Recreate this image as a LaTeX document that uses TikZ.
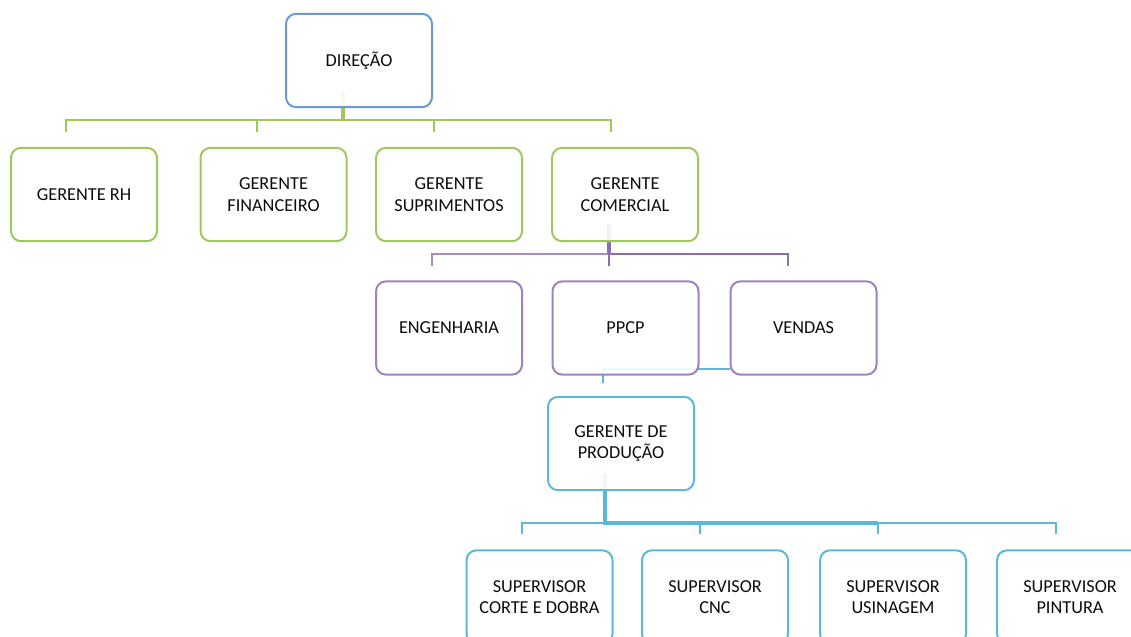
\documentclass[tikz,border=0pt]{standalone}
\usepackage{fontspec}
\setmainfont{Carlito}
\usetikzlibrary{calc}
\definecolor{dirblue}{HTML}{6A9AD6}
\definecolor{mgreen}{HTML}{9DC85A}
\definecolor{dpurple}{HTML}{8C6CB4}
\definecolor{lpurple}{HTML}{A58CC8}
\definecolor{pcyan}{HTML}{58BAD8}
\pgfdeclarelayer{bg}
\pgfsetlayers{bg,main}
\begin{document}
\begin{tikzpicture}[x=0.75pt,y=-0.75pt,
  box/.style={rectangle, rounded corners=7.5pt, line width=1.5pt, fill=white,
    fill opacity=0.9, text opacity=1, text=black!95, minimum width=109.5pt,
    minimum height=70pt, inner sep=0pt, align=center,
    font=\fontsize{13.7}{16.1}\selectfont},
  topbox/.style={box, draw=dirblue},
  gbox/.style={box, draw=mgreen},
  pbox/.style={box, draw=dpurple!85},
  cbox/.style={box, draw=pcyan},
  conn/.style={line width=1.5pt},
  trunk/.style={line width=3pt}]
\useasboundingbox (0,0) rectangle (1131,636);
\clip (0,0) rectangle (1131,636);

% boxes
\node[topbox] (dir) at (359,60.5) {DIREÇÃO};

\node[gbox] (rh)  at (84,194.5)    {GERENTE RH};
\node[gbox] (fin) at (273.5,194.5) {GERENTE\\FINANCEIRO};
\node[gbox] (sup) at (449,194.5)   {GERENTE\\SUPRIMENTOS};
\node[gbox] (com) at (625,194.5)   {GERENTE\\COMERCIAL};

\node[pbox] (eng)  at (449,328)   {ENGENHARIA};
\node[pbox] (ppcp) at (625.5,328) {PPCP};
\node[pbox] (ven)  at (803.5,328) {VENDAS};

\node[cbox] (prod) at (621,443.5) {GERENTE DE\\PRODUÇÃO};

\node[cbox] (s1) at (539.5,597) {SUPERVISOR\\CORTE E DOBRA};
\node[cbox] (s2) at (715,597)   {SUPERVISOR\\CNC};
\node[cbox] (s3) at (893,597)   {SUPERVISOR\\USINAGEM};
\node[cbox] (s4) at (1070,597)  {SUPERVISOR\\PINTURA};

% bus levels and drop ends
\coordinate (gbus) at ($(dir.south)+(-16,12)$);
\coordinate (pbus) at ($(com.south)+(-16,12)$);
\coordinate (cbus) at ($(prod.south)+(-16,32)$);

\coordinate (g1) at ($(rh.north)+(-18,-15)$);
\coordinate (g2) at ($(fin.north)+(-16.5,-15)$);
\coordinate (g3) at ($(sup.north)+(-15,-15)$);
\coordinate (g4) at ($(com.north)+(-14,-15)$);

\coordinate (p1) at ($(eng.north)+(-17,-14)$);
\coordinate (p2) at ($(ppcp.north)+(-16.5,-14)$);
\coordinate (p3) at ($(ven.north)+(-15.5,-14)$);

\coordinate (c1) at ($(s1.north)+(-17.5,-15)$);
\coordinate (c2) at ($(s2.north)+(-15,-15)$);
\coordinate (c3) at ($(s3.north)+(-15,-15)$);
\coordinate (c4) at ($(s4.north)+(-14,-15)$);

\begin{pgfonlayer}{bg}
  % direction -> managers
  \draw[trunk, mgreen] ($(dir.south)+(-16,-17)$) -- (gbus);
  \draw[conn, mgreen] (g1) -- (g1 |- gbus) -- (g4 |- gbus) -- (g4);
  \draw[conn, mgreen] (g2) -- (g2 |- gbus);
  \draw[conn, mgreen] (g3) -- (g3 |- gbus);

  % commercial -> departments
  \draw[trunk, dpurple] ($(com.south)+(-16,-18)$) -- (pbus);
  \draw[conn, lpurple] (p1) -- (p1 |- pbus) -- (pbus);
  \draw[conn, dpurple] (p2) -- (p2 |- pbus) -- (p3 |- pbus) -- (p3);

  % PPCP -> production
  \coordinate (pp) at ($(ppcp.south)+(-22.5,-7)$);
  \draw[conn, pcyan] (ven.west |- pp) -- (pp) -- ++(0,14);

  % production -> supervisors
  \draw[trunk, pcyan] ($(prod.south)+(-16,-18)$) -- (cbus) -- (c3 |- cbus);
  \draw[conn, pcyan] (c1) -- (c1 |- cbus) -- (c4 |- cbus) -- (c4);
  \draw[conn, pcyan] (c2) -- (c2 |- cbus);
  \draw[conn, pcyan] (c3) -- (c3 |- cbus);
\end{pgfonlayer}
\end{tikzpicture}
\end{document}
